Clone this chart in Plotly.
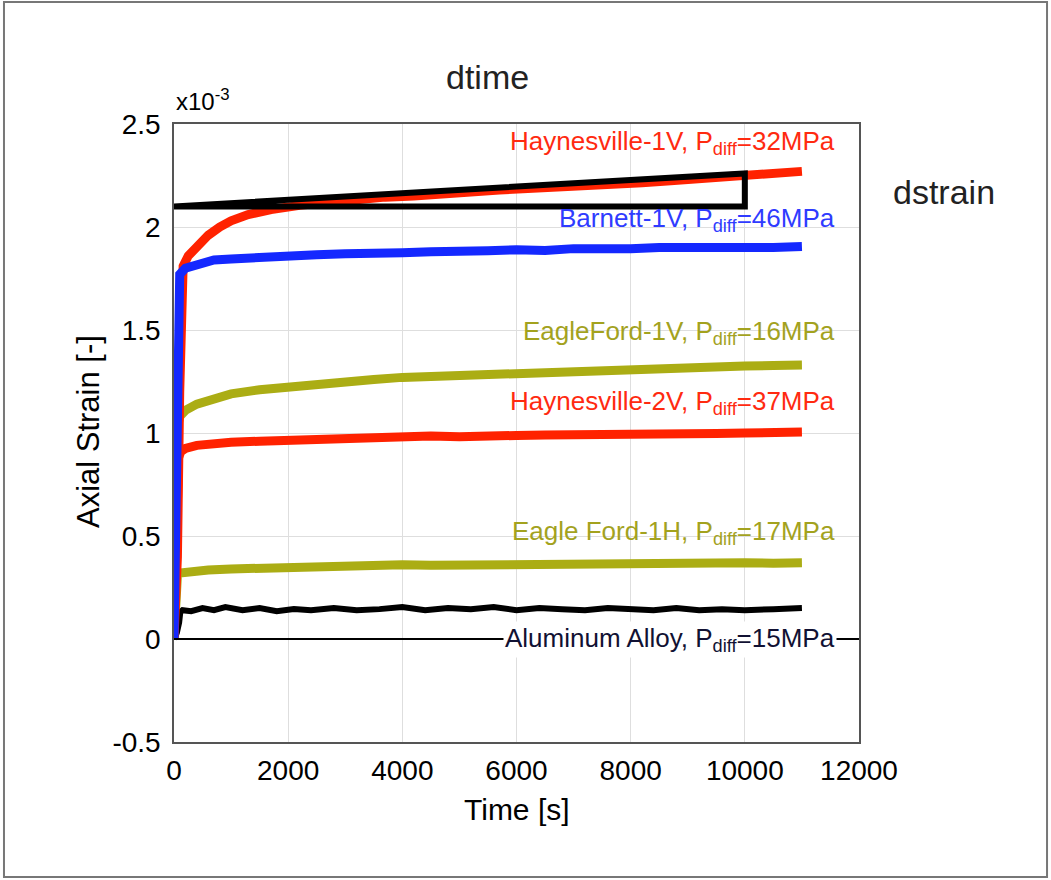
import plotly.graph_objects as go

# ---- data (strain in units of 1e-3) ----
h1v_t = [0, 60, 100, 130, 160, 250, 400, 600, 800, 1000, 1300, 1700, 2200, 2700, 3200, 3700,
         4200, 4700, 5200, 5700, 6200, 6700, 7200, 7700, 8200, 8700, 9200, 9700, 10200, 10600, 11000]
h1v_s = [0, 0.4, 1.2, 1.75, 1.81, 1.86, 1.91, 1.96, 2.0, 2.03, 2.06, 2.085, 2.105, 2.12, 2.13, 2.145,
         2.15, 2.165, 2.17, 2.18, 2.185, 2.19, 2.205, 2.21, 2.215, 2.225, 2.235, 2.24, 2.255, 2.26, 2.27]

barnett_t = [0, 30, 50, 70, 100, 200, 400, 700, 1000, 1500, 2000, 2500, 3000, 3500, 4000, 4500, 5000,
             5500, 6000, 6500, 7000, 7500, 8000, 8500, 9000, 9500, 10000, 10500, 11000]
barnett_s = [0, 0.5, 1.2, 1.7, 1.77, 1.80, 1.82, 1.84, 1.845, 1.855, 1.86, 1.865, 1.87, 1.868, 1.875, 1.88, 1.878,
             1.885, 1.89, 1.886, 1.895, 1.89, 1.895, 1.9, 1.898, 1.9, 1.902, 1.9, 1.905]

ef1v_t = [0, 20, 40, 60, 100, 200, 400, 700, 1000, 1500, 2000, 2500, 3000, 3500, 4000, 4500, 5000, 5500,
          6000, 6500, 7000, 7500, 8000, 8500, 9000, 9500, 10000, 10500, 11000]
ef1v_s = [0, 0.6, 0.95, 1.03, 1.08, 1.11, 1.14, 1.17, 1.19, 1.21, 1.225, 1.24, 1.25, 1.26, 1.27, 1.275, 1.285, 1.288,
          1.295, 1.3, 1.305, 1.31, 1.315, 1.318, 1.32, 1.323, 1.325, 1.328, 1.33]

h2v_t = [0, 30, 60, 80, 120, 200, 400, 700, 1000, 1500, 2000, 2500, 3000, 3500, 4000, 4500, 5000, 5500,
         6000, 6500, 7000, 7500, 8000, 8500, 9000, 9500, 10000, 10500, 11000]
h2v_s = [0, 0.3, 0.8, 0.88, 0.91, 0.925, 0.94, 0.95, 0.955, 0.96, 0.965, 0.97, 0.975, 0.972, 0.98, 0.985, 0.982,
         0.99, 0.988, 0.99, 0.993, 0.995, 0.995, 0.998, 1.0, 0.998, 1.0, 1.003, 1.005]

ef1h_t = [0, 20, 40, 60, 100, 300, 600, 1000, 1500, 2000, 2500, 3000, 3500, 4000, 4500, 5000, 5500, 6000,
          6500, 7000, 7500, 8000, 8500, 9000, 9500, 10000, 10500, 11000]
ef1h_s = [0, 0.15, 0.28, 0.31, 0.32, 0.33, 0.335, 0.34, 0.345, 0.35, 0.352, 0.355, 0.357, 0.36, 0.358, 0.36, 0.362, 0.36,
          0.363, 0.365, 0.362, 0.365, 0.366, 0.365, 0.368, 0.37, 0.368, 0.37]

al_t = [0, 50, 90, 110, 150, 300, 500, 700, 900, 1200, 1500, 1800, 2100, 2400, 2800, 3200, 3600, 4000, 4400,
        4800, 5200, 5600, 6000, 6400, 6800, 7200, 7600, 8000, 8400, 8800, 9200, 9600, 10000, 10500, 11000]
al_s = [0, 0.03, 0.08, 0.13, 0.14, 0.135, 0.15, 0.14, 0.155, 0.14, 0.15, 0.135, 0.145, 0.14, 0.15, 0.14, 0.145, 0.155,
        0.14, 0.15, 0.145, 0.155, 0.14, 0.15, 0.145, 0.14, 0.15, 0.145, 0.14, 0.15, 0.14, 0.145, 0.14, 0.145, 0.15]

tri_t = [0, 10000, 10000, 0]
tri_s = [2.1, 2.1, 2.26, 2.1]

x_ticks = [0, 2000, 4000, 6000, 8000, 10000, 12000]
x_ticklabels = ["0", "2000", "4000", "6000", "8000", "10000", "12000"]
y_ticks = [-0.5, 0, 0.5, 1, 1.5, 2, 2.5]
y_ticklabels = ["-0.5", "0", "0.5", "1", "1.5", "2", "2.5"]

labels = [
    ("Haynesville-1V, P<sub>diff</sub>=32MPa", 2.41, "#ff2a10"),
    ("Barnett-1V, P<sub>diff</sub>=46MPa", 2.035, "#2f3bff"),
    ("EagleFord-1V, P<sub>diff</sub>=16MPa", 1.49, "#a3a21e"),
    ("Haynesville-2V, P<sub>diff</sub>=37MPa", 1.146, "#ff2a10"),
    ("Eagle Ford-1H, P<sub>diff</sub>=17MPa", 0.515, "#a3a21e"),
]

RED = "#ff2200"
BLUE = "#1428ff"
OLIVE = "#abad14"
FONT = "Liberation Sans, Arial, sans-serif"
LBL = 26

fig = go.Figure()
def add(t, s, color, w):
    fig.add_trace(go.Scatter(x=t, y=s, mode="lines", line=dict(color=color, width=w),
                             showlegend=False, hoverinfo="skip"))

add(h2v_t, h2v_s, RED, 9)
add(ef1h_t, ef1h_s, OLIVE, 9)
add(ef1v_t, ef1v_s, OLIVE, 9)
add(al_t, al_s, "black", 6)
add(h1v_t, h1v_s, RED, 9)
add(barnett_t, barnett_s, BLUE, 9)
add(tri_t, tri_s, "black", 6)

# zero reference line
fig.add_shape(type="line", xref="paper", yref="y", x0=0, x1=1, y0=0, y1=0,
              line=dict(color="black", width=2))

ann = []
for txt, y, col in labels:
    ann.append(dict(x=11620, y=y, xref="x", yref="y", text=txt, showarrow=False,
                    xanchor="right", yanchor="middle", font=dict(family=FONT, size=LBL, color=col)))
ann.append(dict(x=11620, y=0, xref="x", yref="y", text="Aluminum Alloy, P<sub>diff</sub>=15MPa",
                showarrow=False, xanchor="right", yanchor="middle", bgcolor="white", borderpad=1,
                font=dict(family=FONT, size=LBL, color="#111133")))
ann.append(dict(x=0.457, y=1.076, xref="paper", yref="paper", text="dtime", showarrow=False,
                xanchor="center", yanchor="middle", font=dict(family=FONT, size=34, color="#222")))
ann.append(dict(x=1.124, y=0.89, xref="paper", yref="paper", text="dstrain", showarrow=False,
                xanchor="center", yanchor="middle", font=dict(family=FONT, size=34, color="#222")))
ann.append(dict(x=0.0, y=1.039, xref="paper", yref="paper", text="x10<sup>-3</sup>", showarrow=False,
                xanchor="left", yanchor="middle", font=dict(family=FONT, size=24, color="black")))
ann.append(dict(x=0.5, y=-0.110, xref="paper", yref="paper", text="Time [s]", showarrow=False,
                xanchor="center", yanchor="middle", font=dict(family=FONT, size=30, color="black")))
ann.append(dict(x=-0.1255, y=0.5016, xref="paper", yref="paper", text="Axial Strain [-]", showarrow=False,
                textangle=-90, xanchor="center", yanchor="middle", font=dict(family=FONT, size=31, color="black")))

# outer border
fig.add_shape(type="rect", xref="paper", yref="paper", x0=-0.2482, x1=1.2745, y0=-0.2184, y1=1.1974,
              line=dict(color="#777", width=2), fillcolor="rgba(0,0,0,0)")

fig.update_layout(
    width=1051, height=880,
    margin=dict(l=174, r=192, t=124, b=138),
    paper_bgcolor="white", plot_bgcolor="white",
    annotations=ann,
    font=dict(family=FONT, color="black"),
)
fig.update_xaxes(range=[0, 12000], tickvals=x_ticks, ticktext=x_ticklabels, showgrid=True,
                 gridcolor="#dedede", gridwidth=1,
                 showline=True, linecolor="#555", linewidth=1.5, mirror=True, zeroline=False,
                 ticks="outside", ticklen=3, tickcolor="rgba(0,0,0,0)",
                 tickfont=dict(family=FONT, size=28, color="black"))
fig.update_yaxes(range=[-0.5, 2.5], tickvals=y_ticks, ticktext=y_ticklabels, showgrid=True,
                 gridcolor="#dedede", gridwidth=1, showline=True, linecolor="#555", linewidth=1.5,
                 mirror=True, zeroline=False, ticks="outside", ticklen=6, tickcolor="rgba(0,0,0,0)",
                 tickfont=dict(family=FONT, size=28, color="black"))

fig.write_html("out.html")
